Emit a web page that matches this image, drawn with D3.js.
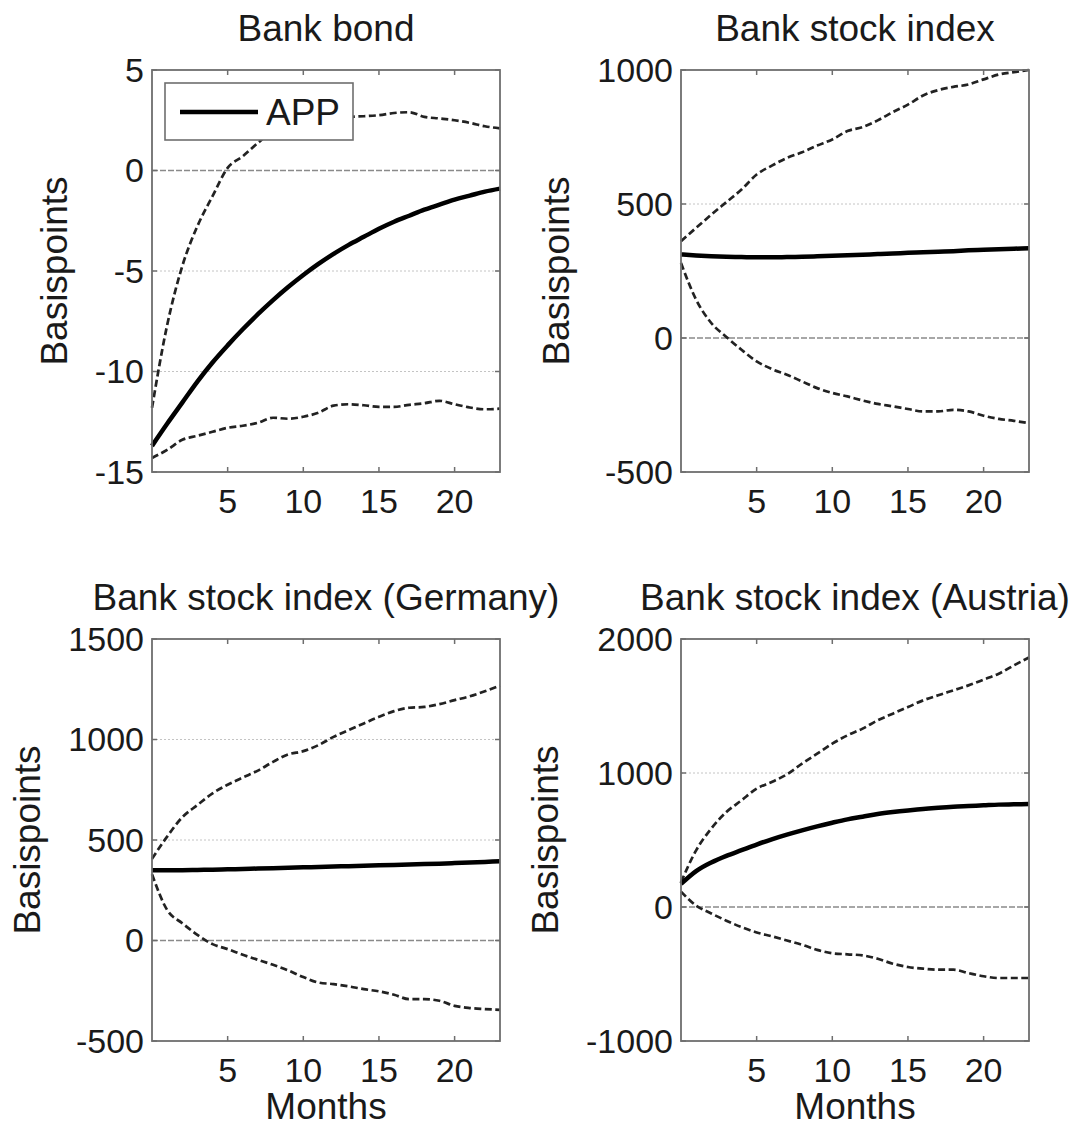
<!DOCTYPE html>
<html>
<head>
<meta charset="utf-8">
<script src="https://cdn.jsdelivr.net/npm/d3@7"></script>
<style>
  body { margin: 0; background: #fff; }
  svg text { font-family: "Liberation Sans", Arial, Helvetica, sans-serif; fill: #1a1a1a; }
</style>
</head>
<body>
<svg id="chart" width="1075" height="1128"></svg>
<script>
// Horizon in months after the shock
const months = [0,1,2,3,4,5,6,7,8,9,10,11,12,13,14,15,16,17,18,19,20,21,22,23];
const xTicks = [5, 10, 15, 20];

// Bank bond (basis points): point estimate and confidence bounds
const bondMain  = [-13.7,-12.6,-11.55,-10.5,-9.55,-8.7,-7.9,-7.15,-6.45,-5.8,-5.2,-4.65,-4.15,-3.7,-3.3,-2.9,-2.55,-2.25,-1.95,-1.7,-1.45,-1.25,-1.05,-0.9];
const bondLower = [-14.3,-13.9,-13.4,-13.2,-13.0,-12.8,-12.7,-12.55,-12.3,-12.35,-12.25,-12.05,-11.7,-11.63,-11.68,-11.76,-11.76,-11.66,-11.58,-11.46,-11.63,-11.79,-11.88,-11.85];
const bondUpper = [-11.8,-7.7,-4.76,-2.77,-1.28,0.13,0.71,1.37,1.95,2.2,2.45,2.57,2.62,2.67,2.7,2.75,2.86,2.9,2.67,2.59,2.5,2.37,2.2,2.1];
const bondTicks = [-15, -10, -5, 0, 5];

// Bank stock index (euro area)
const stockMain  = [312,308,305,303,302,301,301,302,303,305,307,309,311,313,315,318,320,322,324,327,329,331,333,335];
const stockLower = [280,143,56,4,-44,-87,-116,-137,-162,-187,-205,-218,-233,-246,-255,-265,-274,-274,-268,-274,-290,-302,-309,-318];
const stockUpper = [361,411,460,507,554,610,643,672,693,718,741,772,787,812,843,871,905,925,937,946,965,983,992,1000];
const stockTicks = [-500, 0, 500, 1000];

// Bank stock index (Germany)
const deMain  = [350,350,350,351,352,354,356,358,360,362,364,366,368,370,372,374,376,378,380,382,385,388,391,394];
const deLower = [330,152,86,28,-18,-43,-71,-96,-121,-149,-182,-209,-217,-228,-242,-253,-270,-292,-292,-300,-325,-336,-341,-345];
const deUpper = [406,517,613,674,732,775,811,845,889,926,942,972,1013,1047,1080,1113,1141,1158,1162,1176,1196,1215,1240,1268];
const deTicks = [-500, 0, 500, 1000, 1500];

// Bank stock index (Austria)
const atMain  = [172,268,332,382,424,466,505,540,572,602,629,654,674,694,709,721,731,741,749,754,759,764,766,768];
const atLower = [115,10,-48,-102,-150,-190,-218,-250,-282,-320,-345,-353,-361,-386,-423,-448,-460,-468,-468,-493,-517,-530,-530,-530];
const atUpper = [185,423,585,709,796,883,933,990,1070,1144,1219,1281,1331,1393,1443,1492,1542,1580,1617,1654,1697,1741,1803,1862];
const atTicks = [-1000, 0, 1000, 2000];

const panels = [
  { title: "Bank bond", main: bondMain, lower: bondLower, upper: bondUpper, ticks: bondTicks, col: 0, row: 0, legend: true },
  { title: "Bank stock index", main: stockMain, lower: stockLower, upper: stockUpper, ticks: stockTicks, col: 1, row: 0 },
  { title: "Bank stock index (Germany)", main: deMain, lower: deLower, upper: deUpper, ticks: deTicks, col: 0, row: 1, xLabel: true },
  { title: "Bank stock index (Austria)", main: atMain, lower: atLower, upper: atUpper, ticks: atTicks, col: 1, row: 1, xLabel: true }
];

// Layout of the 2x2 grid of axes
const colLeft = [152, 681];
const rowTop = [70, 639];
const plotW = 348, plotH = 402;
const tickFont = 34;
const labelFont = 37;
const frameColor = "#6e6e6e";

const svg = d3.select("#chart");

panels.forEach(p => {
  const left = colLeft[p.col], top = rowTop[p.row];
  const g = svg.append("g").attr("transform", `translate(${left},${top})`);

  const x = d3.scaleLinear().domain([0, 23]).range([0, plotW]);
  const y = d3.scaleLinear().domain(d3.extent(p.ticks)).range([plotH, 0]);

  // horizontal grid lines at interior ticks
  g.selectAll("line.grid")
    .data(p.ticks.filter(t => t !== 0 && t !== y.domain()[0] && t !== y.domain()[1]))
    .join("line")
    .attr("class", "grid")
    .attr("x1", 0).attr("x2", plotW)
    .attr("y1", d => y(d)).attr("y2", d => y(d))
    .attr("stroke", "#c4c4c4").attr("stroke-width", 1)
    .attr("stroke-dasharray", "2,2");

  // zero line
  g.append("line")
    .attr("x1", 0).attr("x2", plotW)
    .attr("y1", y(0)).attr("y2", y(0))
    .attr("stroke", "#8a8a8a").attr("stroke-width", 1.3)
    .attr("stroke-dasharray", "6,2");

  const line = d3.line().x((d, i) => x(months[i])).y(d => y(d)).curve(d3.curveMonotoneX);

  // confidence bounds
  [p.lower, p.upper].forEach(series => {
    g.append("path")
      .datum(series)
      .attr("d", line)
      .attr("fill", "none")
      .attr("stroke", "#222")
      .attr("stroke-width", 2.7)
      .attr("stroke-dasharray", "7,3.5");
  });

  // point estimate
  g.append("path")
    .datum(p.main)
    .attr("d", line)
    .attr("fill", "none")
    .attr("stroke", "#000")
    .attr("stroke-width", 4.5)
    .attr("stroke-linejoin", "round");

  // axes frame
  g.append("rect")
    .attr("x", 0).attr("y", 0).attr("width", plotW).attr("height", plotH)
    .attr("fill", "none").attr("stroke", frameColor).attr("stroke-width", 1.8);

  // inward tick marks on all four sides
  const tickLen = 5;
  xTicks.forEach(t => {
    g.append("line").attr("x1", x(t)).attr("x2", x(t)).attr("y1", plotH).attr("y2", plotH - tickLen)
      .attr("stroke", frameColor).attr("stroke-width", 1.5);
    g.append("line").attr("x1", x(t)).attr("x2", x(t)).attr("y1", 0).attr("y2", tickLen)
      .attr("stroke", frameColor).attr("stroke-width", 1.5);
  });
  p.ticks.forEach(t => {
    g.append("line").attr("x1", 0).attr("x2", tickLen).attr("y1", y(t)).attr("y2", y(t))
      .attr("stroke", frameColor).attr("stroke-width", 1.5);
    g.append("line").attr("x1", plotW).attr("x2", plotW - tickLen).attr("y1", y(t)).attr("y2", y(t))
      .attr("stroke", frameColor).attr("stroke-width", 1.5);
  });

  // tick labels
  g.selectAll("text.xt").data(xTicks).join("text")
    .attr("class", "xt")
    .attr("x", d => x(d)).attr("y", plotH + 41)
    .attr("text-anchor", "middle")
    .style("font-size", tickFont + "px")
    .text(d => d);

  const yLabels = g.selectAll("text.yt").data(p.ticks).join("text")
    .attr("class", "yt")
    .attr("x", -8).attr("y", d => y(d))
    .attr("dy", "0.35em")
    .attr("text-anchor", "end")
    .style("font-size", tickFont + "px")
    .text(d => d);

  const maxW = d3.max(yLabels.nodes(), n => n.getComputedTextLength());

  // y axis title
  g.append("text")
    .attr("transform", `translate(${-8 - maxW - 41},${plotH / 2}) rotate(-90)`)
    .attr("dy", "0.35em")
    .attr("text-anchor", "middle")
    .style("font-size", labelFont + "px")
    .text("Basispoints");

  // panel title
  g.append("text")
    .attr("x", plotW / 2).attr("y", -29)
    .attr("text-anchor", "middle")
    .style("font-size", labelFont + "px")
    .text(p.title);

  if (p.xLabel) {
    g.append("text")
      .attr("x", plotW / 2).attr("y", plotH + 78)
      .attr("text-anchor", "middle")
      .style("font-size", labelFont + "px")
      .text("Months");
  }

  if (p.legend) {
    const lg = g.append("g").attr("transform", "translate(13,13)");
    lg.append("rect")
      .attr("width", 188).attr("height", 57)
      .attr("fill", "#fff").attr("stroke", frameColor).attr("stroke-width", 1.6);
    lg.append("line")
      .attr("x1", 15).attr("x2", 93).attr("y1", 29).attr("y2", 29)
      .attr("stroke", "#000").attr("stroke-width", 4.5);
    lg.append("text")
      .attr("x", 101).attr("y", 42)
      .style("font-size", "37px")
      .text("APP");
  }
});
</script>
</body>
</html>
